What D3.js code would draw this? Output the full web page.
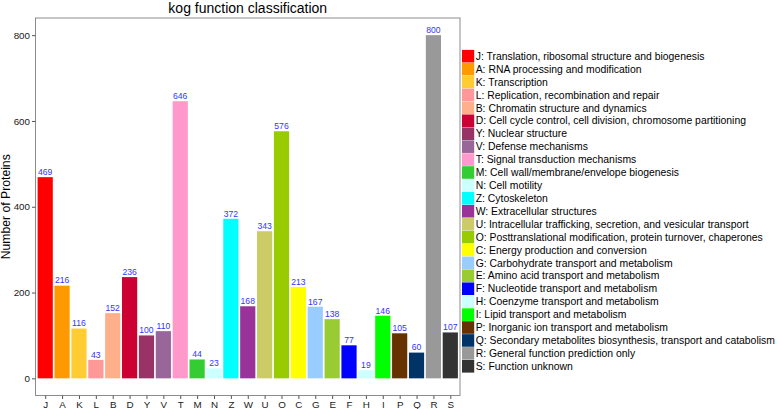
<!DOCTYPE html>
<html>
<head>
<meta charset="utf-8">
<script src="https://cdn.jsdelivr.net/npm/d3@7/dist/d3.min.js"></script>
<style>
  html, body { margin: 0; padding: 0; background: #fff; }
  svg { display: block; font-family: "Liberation Sans", Arial, sans-serif; }
</style>
</head>
<body>
<svg id="chart" width="777" height="409"></svg>
<script>
const categories = ["J","A","K","L","B","D","Y","V","T","M","N","Z","W","U","O","C","G","E","F","H","I","P","Q","R","S"];
const values = [469,216,116,43,152,236,100,110,646,44,23,372,168,343,576,213,167,138,77,19,146,105,60,800,107];
const descriptions = [
  "Translation, ribosomal structure and biogenesis",
  "RNA processing and modification",
  "Transcription",
  "Replication, recombination and repair",
  "Chromatin structure and dynamics",
  "Cell cycle control, cell division, chromosome partitioning",
  "Nuclear structure",
  "Defense mechanisms",
  "Signal transduction mechanisms",
  "Cell wall/membrane/envelope biogenesis",
  "Cell motility",
  "Cytoskeleton",
  "Extracellular structures",
  "Intracellular trafficking, secretion, and vesicular transport",
  "Posttranslational modification, protein turnover, chaperones",
  "Energy production and conversion",
  "Carbohydrate transport and metabolism",
  "Amino acid transport and metabolism",
  "Nucleotide transport and metabolism",
  "Coenzyme transport and metabolism",
  "Lipid transport and metabolism",
  "Inorganic ion transport and metabolism",
  "Secondary metabolites biosynthesis, transport and catabolism",
  "General function prediction only",
  "Function unknown"
];
const colors = ["#FF0000","#FF9900","#FFCC33","#FF9999","#FFB08A","#CC0033","#993366","#996699","#FF99CC","#33CC33","#CCFFFF","#00FFFF","#993399","#CCCC66","#99CC00","#FFFF00","#99CCFF","#99CC33","#0000FF","#CCFFFF","#00FF00","#663300","#003366","#999999","#333333"];
const yTicks = [0,200,400,600,800];
const titleText = "kog function classification";
const yTitle = "Number of Proteins";

const svg = d3.select("#chart");
const panel = {left: 35.5, right: 460, top: 18, bottom: 395.5};

const x = d3.scalePoint().domain(categories).range([panel.left, panel.right]).padding(0.575);
const y = d3.scaleLinear().domain([-40, 840]).range([panel.bottom, panel.top]);
const bw = x.step() * 0.9;
const color = d3.scaleOrdinal().domain(categories).range(colors);

const data = categories.map((c, i) => ({cat: c, value: values[i], desc: descriptions[i]}));

// bars
svg.append("g").selectAll("rect").data(data).join("rect")
  .attr("x", d => x(d.cat) - bw / 2)
  .attr("width", bw)
  .attr("y", d => y(d.value))
  .attr("height", d => y(0) - y(d.value))
  .attr("fill", d => color(d.cat));

// value labels
svg.append("g").selectAll("text").data(data).join("text")
  .attr("x", d => x(d.cat))
  .attr("y", d => y(d.value) - 2.2)
  .attr("text-anchor", "middle")
  .attr("font-size", "8.6px")
  .attr("fill", "#3333ff")
  .text(d => d.value);

// panel border
svg.append("rect")
  .attr("x", panel.left).attr("y", panel.top)
  .attr("width", panel.right - panel.left).attr("height", panel.bottom - panel.top)
  .attr("fill", "none").attr("stroke", "#8c8c8c").attr("stroke-width", 1);

// y axis
const yAxis = d3.axisLeft(y).tickValues(yTicks).tickSize(3.5).tickPadding(2);
const gy = svg.append("g").attr("transform", `translate(${panel.left},0)`).call(yAxis);
gy.select(".domain").remove();
gy.selectAll(".tick line").attr("stroke", "#555");
gy.selectAll(".tick text").attr("font-size", "9.8px").attr("fill", "#1a1a1a").attr("font-family", "Liberation Sans, Arial, sans-serif");

// x axis
const xAxis = d3.axisBottom(x).tickSize(3.5).tickPadding(2.5);
const gx = svg.append("g").attr("transform", `translate(0,${panel.bottom})`).call(xAxis);
gx.select(".domain").remove();
gx.selectAll(".tick line").attr("stroke", "#555");
gx.selectAll(".tick text").attr("font-size", "9.8px").attr("fill", "#1a1a1a").attr("font-family", "Liberation Sans, Arial, sans-serif");

// title
svg.append("text")
  .attr("x", (panel.left + panel.right) / 2)
  .attr("y", 12.5)
  .attr("text-anchor", "middle")
  .attr("font-size", "14px")
  .attr("fill", "#000")
  .text(titleText);

// y title
svg.append("text")
  .attr("transform", `translate(10,${(panel.top + panel.bottom) / 2}) rotate(-90)`)
  .attr("text-anchor", "middle")
  .attr("font-size", "12.2px")
  .attr("fill", "#000")
  .text(yTitle);

// legend
const legY = d3.scalePoint().domain(categories).range([56.2, 366.3]);
const leg = svg.append("g");
const items = leg.selectAll("g").data(data).join("g")
  .attr("transform", d => `translate(462,${legY(d.cat)})`);
items.append("rect")
  .attr("x", 0).attr("y", -6.3).attr("width", 12.2).attr("height", 12.6)
  .attr("fill", d => color(d.cat));
items.append("text")
  .attr("x", 13.7).attr("y", 0).attr("dy", "0.35em")
  .attr("font-size", "10.4px")
  .attr("fill", "#000")
  .text(d => `${d.cat}: ${d.desc}`);
</script>
</body>
</html>
